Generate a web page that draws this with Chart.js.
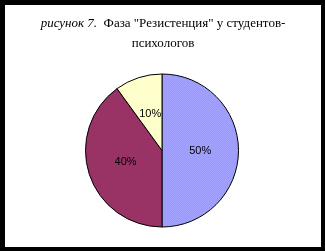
<!DOCTYPE html>
<html>
<head>
<meta charset="utf-8">
<script src="https://cdn.jsdelivr.net/npm/chart.js@4/dist/chart.umd.min.js"></script>
<style>
  html, body { margin: 0; padding: 0; }
  body { width: 325px; height: 251px; background: #000; position: relative; overflow: hidden; }
  #box { position: absolute; left: 5px; top: 5px; width: 316px; height: 242px; background: #fff; }
  #title { position: absolute; left: 0; top: 8px; width: 316px; text-align: center;
           font: 13px "Liberation Serif", serif; line-height: 20px; color: #000; }
  #pieChart { position: absolute; left: 0; top: 0; }
</style>
</head>
<body>
<div id="box">
  <canvas id="pieChart" width="316" height="242"></canvas>
  <div id="title"><i>рисунок 7.</i>&nbsp; Фаза "Резистенция" у студентов-<br>психологов</div>
</div>
<script>
const labels = ['Фаза 1', 'Фаза 2', 'Фаза 3'];
const values = [50, 40, 10];
const valueLabels = ['50%', '40%', '10%'];

// light dotted fill for the blue slice
function dots () {
    const c = document.createElement('canvas');
    c.width = 2; c.height = 2;
    const g = c.getContext('2d');
    g.fillStyle = '#9999ff';
    g.fillRect(0, 0, 2, 2);
    g.fillStyle = '#a3a3ff';
    g.fillRect(0, 0, 1, 1);
    g.fillRect(1, 1, 1, 1);
    return g.createPattern(c, 'repeat');
}

const pctLabels = {
    id: 'pctLabels',
    afterDatasetsDraw (chart) {
        const ctx = chart.ctx;
        ctx.save();
        ctx.font = '11px "Liberation Sans", Arial, sans-serif';
        ctx.fillStyle = '#000';
        ctx.textAlign = 'center';
        ctx.textBaseline = 'middle';
        chart.getDatasetMeta(0).data.forEach((arc, i) => {
            const p = arc.tooltipPosition();
            ctx.fillText(valueLabels[i], p.x, p.y);
        });
        ctx.restore();
    }
};

const ctx = document.getElementById('pieChart').getContext('2d');
new Chart(ctx, {
    type: 'pie',
    data: {
        labels: labels,
        datasets: [{
            data: values,
            backgroundColor: [dots(), '#993366', '#ffffcc'],
            borderColor: '#000',
            borderWidth: 1,
        }]
    },
    options: {
        responsive: false,
        animation: false,
        layout: { padding: { top: 68, bottom: 19, left: 80, right: 82 } },
        plugins: {
            legend: { display: false },
            tooltip: { enabled: false },
        }
    },
    plugins: [pctLabels]
});
</script>
</body>
</html>
